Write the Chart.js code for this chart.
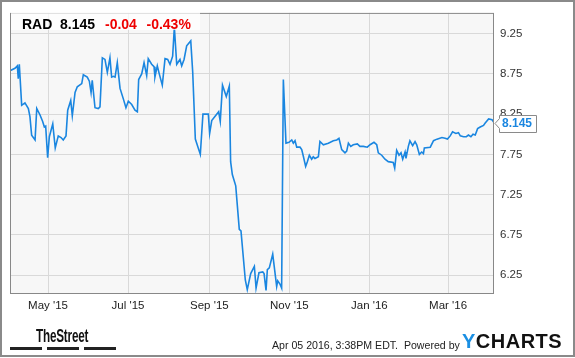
<!DOCTYPE html>
<html>
<head>
<meta charset="utf-8">
<script src="https://cdn.jsdelivr.net/npm/chart.js@4.4.0/dist/chart.umd.min.js"></script>
<style>
  html, body { margin: 0; padding: 0; background: #fff; }
  #wrap { position: relative; width: 575px; height: 358px; overflow: hidden; font-family: "Liberation Sans", Arial, sans-serif; }
  #grafico { position: absolute; left: 0; top: 0; }
  #marco { position: absolute; left: 0; top: 0; width: 571px; height: 353px; border: 2px solid #8a8a8a; pointer-events: none; }
  #cabecera { position: absolute; left: 11px; top: 11px; width: 189px; height: 19px; background: rgba(255,255,255,0.72); }
  .cab { position: absolute; top: 15.5px; line-height: 16px; font-size: 14px; font-weight: bold; white-space: nowrap; }
  .rojo { color: #ee0000; }
  #logo-street { position: absolute; left: 36px; top: 326.5px; line-height: 18px; font-size: 18px; font-weight: bold; color: #111; transform: scaleX(0.65); transform-origin: left center; letter-spacing: -0.3px; }
  .barra { position: absolute; top: 347px; height: 3px; width: 32px; background: #222; }
  #pie { position: absolute; left: 272px; top: 339px; line-height: 13px; font-size: 10.6px; color: #222; white-space: nowrap; }
  #ycharts { position: absolute; left: 462px; top: 331.4px; line-height: 20px; font-size: 20px; font-weight: bold; color: #111; letter-spacing: 0.5px; white-space: nowrap; }
  #ycharts span { color: #1a8fe3; }
</style>
</head>
<body>
<div id="wrap">
  <canvas id="grafico" width="575" height="358"></canvas>
  <div id="cabecera"></div>
  <span class="cab" id="cab-ticker" style="left:22px"></span>
  <span class="cab" id="cab-precio" style="left:60px"></span>
  <span class="cab rojo" id="cab-cambio" style="left:105px"></span>
  <span class="cab rojo" id="cab-pct" style="left:146.5px"></span>
  <div id="logo-street">TheStreet</div>
  <div class="barra" style="left:10px"></div>
  <div class="barra" style="left:47px"></div>
  <div class="barra" style="left:83.5px"></div>
  <div id="pie">Apr 05 2016, 3:38PM EDT.&nbsp; Powered by</div>
  <div id="ycharts"><span>Y</span>CHARTS</div>
  <div id="marco"></div>
</div>
<script>
// DATOS (dias desde 1 abr 2015)
const ticker = 'RAD';
const ultimoPrecio = 8.145;
const cambio = -0.04;
const cambioPct = -0.43;

const dias = [1,4.8,6.6,7.3,8.1,9.9,12.4,15.0,16.2,17.5,
  20.1,21.4,23.9,25.9,27.2,28.2,29.7,31.0,33.6,35.5,
  37.8,39.9,41.6,43.7,45.0,47.3,48.5,50.6,52.3,55.7,
  56.9,59.9,61.5,62.8,63.7,65.8,68.3,69.6,71.4,73.4,
  75.2,77.2,78.5,79.8,81.1,82.8,84.9,87.4,89.4,91.2,
  93.8,96.3,98.1,99.1,101.4,103.2,105.2,106.4,109.0,110.8,
  111.5,113.3,114.8,117.1,119.2,121.2,123.0,125.0,126.3,128.1,
  130.6,131.9,133.7,135.7,138.8,140.3,142.3,146.1,148.1,152.2,
  153.2,154.8,160.1,161.3,163.0,165.9,168.2,169.2,170.5,173.1,
  175.8,177.1,180.4,181.9,184.5,187.3,188.6,190.8,193.7,194.7,
  196.2,197.2,198.7,201.3,204.3,205.1,206.8,208.1,209.4,211.4,
  213.7,215.8,217.0,218.3,219.6,222.1,223.4,224.6,226.4,227.7,
  229.2,231.0,232.2,233.5,236.1,237.3,239.9,243.7,247.5,250.1,
  251.8,253.9,256.4,257.7,259.0,260.8,262.7,265.8,267.8,270.4,
  273.4,275.5,278.5,280.6,281.8,284.4,286.9,289.4,293.2,294.3,
  295.8,297.6,299.1,300.4,302.2,302.9,304.7,305.9,308.0,309.8,
  311.1,313.1,314.9,316.2,316.9,321.4,323.9,326.5,330.3,332.7,
  334.5,336.6,338.4,340.9,342.9,344.3,346.8,348.9,350.5,352.4,
  354.0,355.7,357.5,359.5,362.0,363.3,365.9,368.5,370];

const precios = [8.79,8.82,8.85,8.69,8.87,8.36,8.39,8.32,8.22,7.99,
  7.93,8.32,8.24,8.16,8.09,8.10,7.71,7.97,8.13,7.83,
  7.98,7.96,7.93,7.98,8.30,8.42,8.23,8.52,8.59,8.63,
  8.74,8.71,8.66,8.52,8.67,8.33,8.32,8.34,8.95,8.93,
  8.77,8.95,8.71,8.72,8.71,8.89,8.57,8.44,8.33,8.41,
  8.37,8.30,8.28,8.68,8.75,8.89,8.73,8.94,8.87,8.84,
  8.71,8.85,8.75,8.61,8.94,8.93,8.87,8.97,9.33,8.87,
  8.93,8.85,8.93,9.10,9.16,8.77,7.94,7.75,8.25,8.25,
  8.01,8.17,8.28,8.16,8.61,8.47,8.60,7.66,7.50,7.36,
  6.82,6.80,6.19,6.07,6.27,6.36,6.09,6.28,6.29,6.27,
  6.06,6.32,6.34,6.51,6.11,6.18,6.14,6.09,8.68,7.89,
  7.90,7.93,7.89,7.92,7.84,7.84,7.81,7.73,7.60,7.66,
  7.74,7.69,7.72,7.70,7.72,7.91,7.87,7.89,7.92,7.93,
  7.95,7.81,7.77,7.79,7.89,7.85,7.87,7.88,7.85,7.85,
  7.84,7.87,7.90,7.87,7.77,7.74,7.69,7.66,7.65,7.58,
  7.80,7.74,7.77,7.69,7.78,7.70,7.85,7.92,7.86,7.91,
  7.87,7.75,7.78,7.76,7.83,7.84,7.92,7.94,7.96,7.95,
  7.94,7.98,8.03,8.01,8.02,7.98,7.97,7.97,7.99,7.97,
  8.00,7.99,8.07,8.09,8.11,8.14,8.19,8.18,8.145];

const diasMes = [30, 91, 153, 214, 275, 335];
const etiquetasMes = ["May '15", "Jul '15", "Sep '15", "Nov '15", "Jan '16", "Mar '16"];
const ticksPrecio = [6.25, 6.75, 7.25, 7.75, 8.25, 8.75, 9.25];

// TEXTOS DE CABECERA
document.getElementById('cab-ticker').textContent = ticker;
document.getElementById('cab-precio').textContent = ultimoPrecio.toString();
document.getElementById('cab-cambio').textContent = cambio.toFixed(2);
document.getElementById('cab-pct').textContent = cambioPct.toFixed(2) + '%';

const AZUL = '#1a86e0';
const GRIS_GRID = '#d9d9d9';

// fondo del area, marco y etiqueta del ultimo valor
const fondo = {
  id: 'fondo',
  beforeDraw(chart) {
    const { ctx, chartArea: a } = chart;
    ctx.save();
    ctx.fillStyle = '#fff';
    ctx.fillRect(0, 0, chart.width, chart.height);
    ctx.fillStyle = '#f7f7f7';
    ctx.fillRect(a.left, a.top, a.right - a.left, a.bottom - a.top);
    ctx.restore();
  },
  afterDraw(chart) {
    const { ctx, chartArea: a } = chart;
    ctx.save();
    ctx.strokeStyle = '#888';
    ctx.lineWidth = 1;
    ctx.strokeRect(a.left + 0.5, a.top + 0.5, a.right - a.left - 1, a.bottom - a.top - 1);

    const y = Math.round(chart.scales.y.getPixelForValue(ultimoPrecio)) + 0.5;
    const x0 = a.right + 5.5, x1 = a.right + 42.5;
    const t = y - 8, b = y + 9;
    ctx.beginPath();
    ctx.moveTo(x0, y - 5);
    ctx.lineTo(x0, t);
    ctx.lineTo(x1, t);
    ctx.lineTo(x1, b);
    ctx.lineTo(x0, b);
    ctx.lineTo(x0, y + 5);
    ctx.lineTo(a.right + 1, y);
    ctx.closePath();
    ctx.fillStyle = '#fff';
    ctx.fill();
    ctx.strokeStyle = '#8a8a8a';
    ctx.stroke();
    ctx.fillStyle = AZUL;
    ctx.font = 'bold 12px "Liberation Sans", Arial, sans-serif';
    ctx.textBaseline = 'middle';
    ctx.textAlign = 'left';
    ctx.fillText(ultimoPrecio.toString(), x0 + 2.5, y + 0.5);
    ctx.restore();
  }
};

new Chart(document.getElementById('grafico'), {
  type: 'line',
  data: {
    datasets: [{
      data: dias.map((d, i) => ({ x: d, y: precios[i] })),
      borderColor: AZUL,
      borderWidth: 1.6,
      pointRadius: 0,
      tension: 0,
      fill: false
    }]
  },
  options: {
    responsive: false,
    animation: false,
    layout: { padding: { left: 10, top: 10, right: 0, bottom: 0 } },
    plugins: { legend: { display: false }, tooltip: { enabled: false } },
    scales: {
      x: {
        type: 'linear',
        min: 1,
        max: 370,
        afterBuildTicks: axis => { axis.ticks = diasMes.map(v => ({ value: v })); },
        afterFit: axis => { axis.height = 64; },
        grid: { color: GRIS_GRID, drawTicks: false },
        border: { display: false },
        ticks: {
          autoSkip: false,
          maxRotation: 0,
          padding: 5,
          color: '#222',
          font: { family: '"Liberation Sans", Arial, sans-serif', size: 11.5 },
          callback: v => etiquetasMes[diasMes.indexOf(v)]
        }
      },
      y: {
        type: 'linear',
        position: 'right',
        min: 6.016,
        max: 9.508,
        afterBuildTicks: axis => { axis.ticks = ticksPrecio.map(v => ({ value: v })); },
        afterFit: axis => { axis.width = 81; },
        grid: { color: GRIS_GRID, drawTicks: false },
        border: { display: false },
        ticks: {
          padding: 6,
          color: '#333',
          font: { family: '"Liberation Sans", Arial, sans-serif', size: 11.5 },
          callback: v => v.toFixed(2)
        }
      }
    }
  },
  plugins: [fondo]
});
</script>
</body>
</html>
